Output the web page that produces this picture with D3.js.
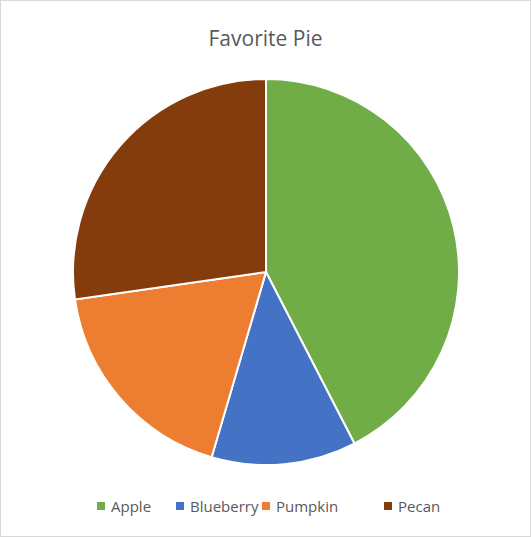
<!DOCTYPE html>
<html>
<head>
<meta charset="utf-8">
<script src="https://cdn.jsdelivr.net/npm/d3@7"></script>
<style>
  body { margin: 0; background: #fff; }
  text { font-family: "Open Sans", "Liberation Sans", sans-serif; fill: #595959; }
</style>
</head>
<body>
<div id="chart"></div>
<script>
var categories = ["Apple", "Blueberry", "Pumpkin", "Pecan"];
var values = [14, 4, 6, 9];
var colors = ["#70AD47", "#4472C4", "#ED7D31", "#843C0C"];

var width = 531, height = 537;
var cx = 266, cy = 272, radius = 193;

var svg = d3.select("#chart").append("svg")
    .attr("width", width)
    .attr("height", height);

svg.append("rect")
    .attr("x", 0.5).attr("y", 0.5)
    .attr("width", width - 1).attr("height", height - 1)
    .attr("fill", "#fff")
    .attr("stroke", "#D9D9D9");

svg.append("text")
    .attr("x", width / 2)
    .attr("y", 46)
    .attr("text-anchor", "middle")
    .style("font-size", "21px")
    .text("Favorite Pie");

var data = categories.map((c, i) => ({ name: c, value: values[i], color: colors[i] }));

var pie = d3.pie().sort(null).value(d => d.value);
var arc = d3.arc().innerRadius(0).outerRadius(radius);

svg.append("g")
    .attr("transform", "translate(" + cx + "," + cy + ")")
    .selectAll("path")
    .data(pie(data))
    .enter().append("path")
    .attr("d", arc)
    .attr("fill", d => d.data.color)
    .attr("stroke", "#fff")
    .attr("stroke-width", 2);

// legend
var legendX = [97, 176, 262, 384];
var legend = svg.append("g").selectAll("g")
    .data(data)
    .enter().append("g")
    .attr("transform", (d, i) => "translate(" + legendX[i] + ",506)");

legend.append("rect")
    .attr("x", 0).attr("y", -4)
    .attr("width", 8).attr("height", 8)
    .attr("fill", d => d.color);

legend.append("text")
    .attr("x", 14)
    .attr("y", 5.5)
    .style("font-size", "15px")
    .text(d => d.name);
</script>
</body>
</html>
